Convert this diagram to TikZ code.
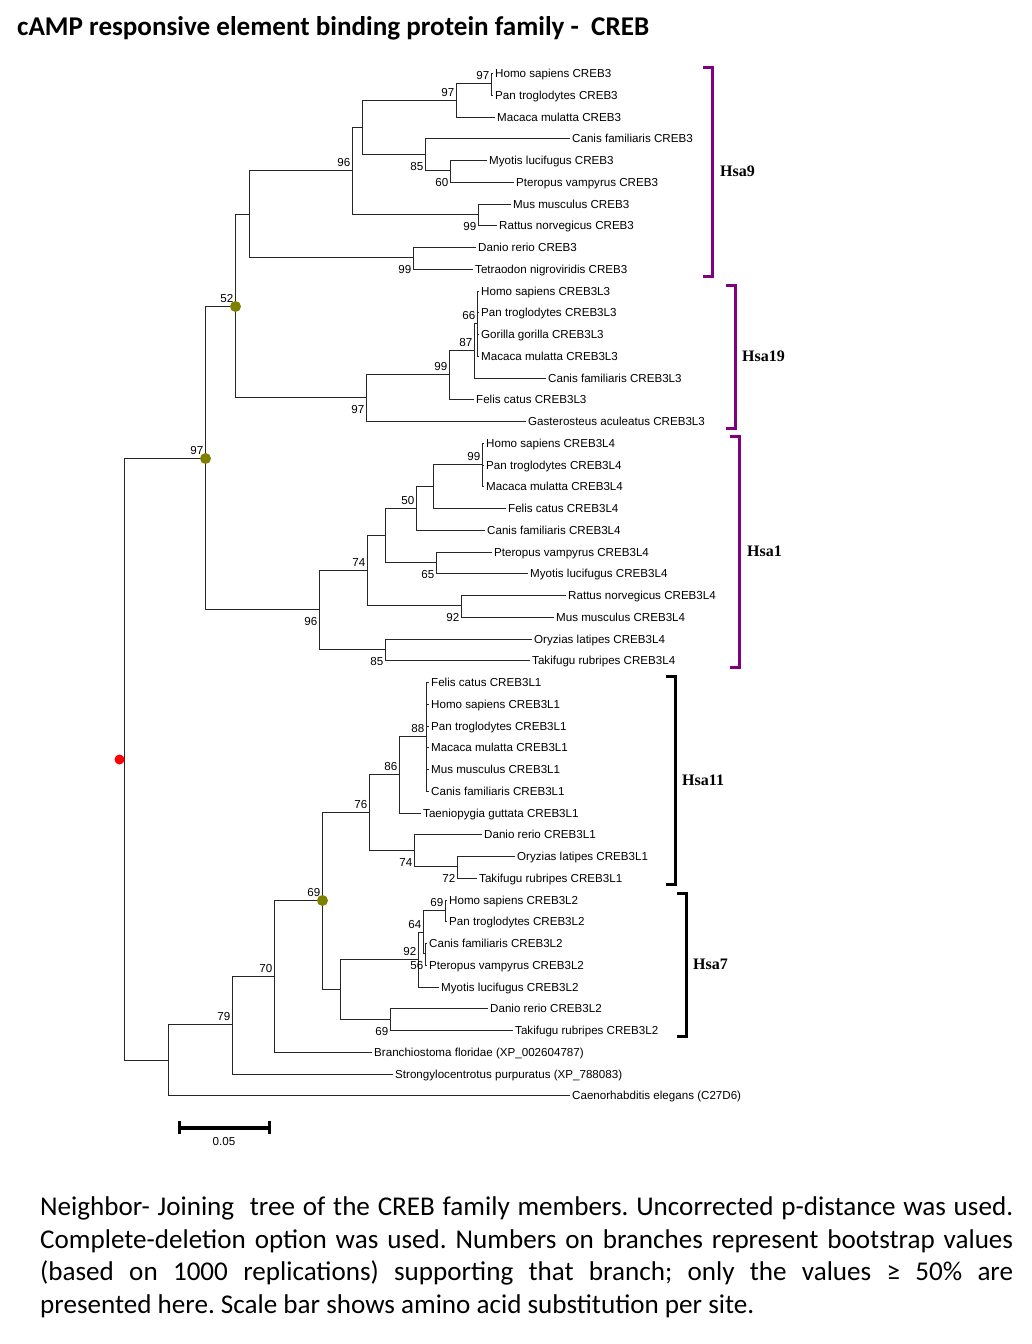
\documentclass[tikz,border=0pt]{standalone}
\usepackage{fontspec}
\setmainfont{Liberation Sans}
\newfontfamily\capfont{Carlito}
\newfontfamily\brfont{Liberation Serif}
\usetikzlibrary{calc}
\definecolor{olivedot}{RGB}{128,128,0}
\definecolor{brpurple}{RGB}{128,0,128}
\begin{document}
\frenchspacing
\begin{tikzpicture}[x=1pt,y=-1pt,
  br/.style={line width=1pt, draw=black!85},
  leaf/.style={anchor=west, inner xsep=2pt, inner ysep=0pt, text height=8.3pt, text depth=0pt, font=\fontsize{11.6}{13}\selectfont},
  bs/.style={anchor=east, inner sep=0pt, text height=8.3pt, text depth=0pt, font=\fontsize{11.6}{13}\selectfont},
  ab/.style={bs, shift={(-2,-8.5)}},
  bl/.style={bs, shift={(-2,11.5)}},
  dot/.style={circle, inner sep=0pt, minimum size=11pt},
  bracket/.style={line width=3pt, line join=miter},
  brlabel/.style={anchor=west, inner sep=0pt, font=\brfont\bfseries\fontsize{16}{18}\selectfont},
  captext/.style={anchor=base west, inner sep=0pt, font=\capfont\fontsize{27.1}{32}\selectfont}]
\useasboundingbox (0,0) rectangle (1031,1344);

% title
\node[anchor=base west, inner sep=0pt, font=\capfont\bfseries\fontsize{27.1}{30}\selectfont] (title) at (17,35) {cAMP responsive element binding protein family -\ \ CREB};

% internal nodes
\coordinate (root) at (124.5,759.5);
\coordinate (n97) at (205.5,458.5);
\coordinate (n52) at (235.5,306.5);
\coordinate (nG) at (249.5,214.5);
\coordinate (nE) at (352.5,170.5);
\coordinate (nB) at (362.5,127.5);
\coordinate (nA) at (456.5,100.5);
\coordinate (nA1) at (491.5,83.5);
\coordinate (nC) at (425.5,154.5);
\coordinate (nD) at (450.5,170.5);
\coordinate (nF) at (478.5,214.5);
\coordinate (nH) at (413.5,257.5);
\coordinate (nJ) at (366.5,397.5);
\coordinate (nK) at (449.5,374.5);
\coordinate (nL) at (474.5,350.5);
\coordinate (nM) at (477.5,323.5);
\coordinate (n96) at (319.5,609.5);
\coordinate (n74) at (367.5,570.5);
\coordinate (nP) at (385.5,535.5);
\coordinate (nQ) at (416.5,508.5);
\coordinate (nR) at (433.5,486.5);
\coordinate (nS) at (482.5,464.5);
\coordinate (nT) at (436.5,562.5);
\coordinate (nU) at (461.5,605.5);
\coordinate (nV) at (385.5,649.5);
\coordinate (nAJ) at (168.5,1060.5);
\coordinate (nAI) at (232.5,1024.5);
\coordinate (nAH) at (274.5,976.5);
\coordinate (nAB) at (322.5,900.5);
\coordinate (nY) at (369.5,812.5);
\coordinate (nX) at (399.5,774.5);
\coordinate (nW) at (426.5,736.5);
\coordinate (nZ) at (414.5,850.5);
\coordinate (nAA) at (457.5,866.5);
\coordinate (nAC) at (340.5,989.5);
\coordinate (nAD) at (418.5,959.5);
\coordinate (nAE) at (423.5,932.5);
\coordinate (nAF) at (425.5,953.5);
\coordinate (nAG1) at (445.5,910.5);
\coordinate (nAG) at (390.5,1019.5);

% leaves
\foreach \i/\x/\t in {
 1/493/Homo sapiens CREB3,
 2/493/Pan troglodytes CREB3,
 3/495/Macaca mulatta CREB3,
 4/570/Canis familiaris CREB3,
 5/487/Myotis lucifugus CREB3,
 6/514/Pteropus vampyrus CREB3,
 7/511/Mus musculus CREB3,
 8/497/Rattus norvegicus CREB3,
 9/476/Danio rerio CREB3,
 10/473/Tetraodon nigroviridis CREB3,
 11/479/Homo sapiens CREB3L3,
 12/479/Pan troglodytes CREB3L3,
 13/479/Gorilla gorilla CREB3L3,
 14/479/Macaca mulatta CREB3L3,
 15/546/Canis familiaris CREB3L3,
 16/474/Felis catus CREB3L3,
 17/526/Gasterosteus aculeatus CREB3L3,
 18/484/Homo sapiens CREB3L4,
 19/484/Pan troglodytes CREB3L4,
 20/484/Macaca mulatta CREB3L4,
 21/506/Felis catus CREB3L4,
 22/485/Canis familiaris CREB3L4,
 23/492/Pteropus vampyrus CREB3L4,
 24/528/Myotis lucifugus CREB3L4,
 25/566/Rattus norvegicus CREB3L4,
 26/554/Mus musculus CREB3L4,
 27/532/Oryzias latipes CREB3L4,
 28/530/Takifugu rubripes CREB3L4,
 29/429/Felis catus CREB3L1,
 30/429/Homo sapiens CREB3L1,
 31/429/Pan troglodytes CREB3L1,
 32/429/Macaca mulatta CREB3L1,
 33/429/Mus musculus CREB3L1,
 34/429/Canis familiaris CREB3L1,
 35/421/Taeniopygia guttata CREB3L1,
 36/482/Danio rerio CREB3L1,
 37/515/Oryzias latipes CREB3L1,
 38/477/Takifugu rubripes CREB3L1,
 39/447/Homo sapiens CREB3L2,
 40/447/Pan troglodytes CREB3L2,
 41/427/Canis familiaris CREB3L2,
 42/427/Pteropus vampyrus CREB3L2,
 43/439/Myotis lucifugus CREB3L2,
 44/488/Danio rerio CREB3L2,
 45/513/Takifugu rubripes CREB3L2,
 46/372/Branchiostoma floridae (XP\_002604787),
 47/393/Strongylocentrotus purpuratus (XP\_788083),
 48/570/Caenorhabditis elegans (C27D6)}
 \node[leaf] (l\i) at (\x,{round(73+(\i-1)*21.75)+0.5}) {\t};

% branches
\foreach \p/\c in {root/n97, root/nAJ, n97/n52, n97/n96, n52/nG, n52/nJ,
 nG/nE, nG/nH, nE/nB, nE/nF, nB/nA, nB/nC, nA/nA1, nA/l3.west,
 nA1/l1.west, nA1/l2.west, nC/l4.west, nC/nD, nD/l5.west, nD/l6.west,
 nF/l7.west, nF/l8.west, nH/l9.west, nH/l10.west,
 nJ/nK, nJ/l17.west, nK/nL, nK/l16.west, nL/nM, nL/l15.west,
 nM/l11.west, nM/l12.west, nM/l13.west, nM/l14.west,
 n96/n74, n96/nV, n74/nP, n74/nU, nP/nQ, nP/nT, nQ/nR, nQ/l22.west,
 nR/nS, nR/l21.west, nS/l18.west, nS/l19.west, nS/l20.west,
 nT/l23.west, nT/l24.west, nU/l25.west, nU/l26.west, nV/l27.west, nV/l28.west,
 nAJ/nAI, nAJ/l48.west, nAI/nAH, nAI/l47.west, nAH/nAB, nAH/l46.west,
 nAB/nY, nAB/nAC, nY/nX, nY/nZ, nX/nW, nX/l35.west,
 nW/l29.west, nW/l30.west, nW/l31.west, nW/l32.west, nW/l33.west, nW/l34.west,
 nZ/l36.west, nZ/nAA, nAA/l37.west, nAA/l38.west,
 nAC/nAD, nAC/nAG, nAD/nAE, nAD/l43.west, nAE/nAG1, nAE/nAF,
 nAG1/l39.west, nAG1/l40.west, nAF/l41.west, nAF/l42.west,
 nAG/l44.west, nAG/l45.west}
 \draw[br] (\p) |- (\c);

% bootstrap values
\foreach \n/\v/\s in {nA1/97/ab, nA/97/ab, nE/96/ab, nC/85/bl, nD/60/bl, nF/99/bl, nH/99/bl,
 n52/52/ab, nM/66/ab, nL/87/ab, nK/99/ab, nJ/97/bl, n97/97/ab, nS/99/ab, nQ/50/ab,
 n74/74/ab, nT/65/bl, nU/92/bl, n96/96/bl, nV/85/bl, nW/88/ab, nX/86/ab, nY/76/ab,
 nZ/74/bl, nAA/72/bl, nAB/69/ab, nAG1/69/ab, nAE/64/ab, nAD/92/ab, nAF/56/bl,
 nAH/70/ab, nAI/79/ab, nAG/69/bl}
 \node[\s] (b\n) at (\n) {\v};

% marked nodes
\node[dot, fill=olivedot] (d97) at (n97) {};
\node[dot, fill=olivedot] (d52) at (n52) {};
\node[dot, fill=olivedot] (d69) at (nAB) {};
\node[dot, fill=red, minimum size=10pt] (droot) at ($(root)+(-5,0)$) {};

% brackets
\draw[bracket, brpurple] (703,67) -- (712.5,67) -- (712.5,276) -- (703,276);
\node[brlabel] (hsa9) at (720,171) {Hsa9};
\draw[bracket, brpurple] (726,285) -- (735.5,285) -- (735.5,428) -- (726,428);
\node[brlabel] (hsa19) at (742,356) {Hsa19};
\draw[bracket, brpurple] (730,436.5) -- (739.5,436.5) -- (739.5,667) -- (730,667);
\node[brlabel] (hsa1) at (747,551) {Hsa1};
\draw[bracket, black] (666,676.5) -- (675.5,676.5) -- (675.5,884) -- (666,884);
\node[brlabel] (hsa11) at (682,780) {Hsa11};
\draw[bracket, black] (677,893.5) -- (686.5,893.5) -- (686.5,1036) -- (677,1036);
\node[brlabel] (hsa7) at (693,964) {Hsa7};

% scale bar
\coordinate (sbl) at (179.5,1127.5);
\coordinate (sbr) at (269,1127.5);
\draw[line width=4pt] (sbl) -- (sbr);
\draw[line width=3pt] ($(sbl)+(0,-6.5)$) -- ($(sbl)+(0,6.5)$);
\draw[line width=3pt] ($(sbr)+(0,-6.5)$) -- ($(sbr)+(0,6.5)$);
\node[inner sep=0pt, font=\fontsize{11.6}{13}\selectfont] (sblab) at (224,1141.5) {0.05};

% caption
\node[captext] (c1) at (40,1215) {\makebox[973pt][s]{Neighbor- Joining\ \ tree of the CREB family members. Uncorrected p-distance was used.}};
\node[captext] (c2) at (40,1248) {\makebox[973pt][s]{Complete-deletion option was used. Numbers on branches represent bootstrap values}};
\node[captext] (c3) at (40,1280) {\makebox[973pt][s]{(based on 1000 replications) supporting that branch; only the values ≥ 50\% are}};
\node[captext] (c4) at (40,1313) {presented here. Scale bar shows amino acid substitution per site.};
\end{tikzpicture}
\end{document}
